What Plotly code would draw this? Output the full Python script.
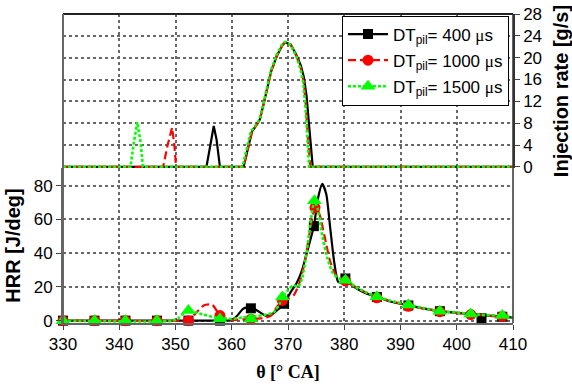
import plotly.graph_objects as go

# ---------------- data ----------------
th_hrr_black = [330, 358, 360, 361, 362, 363.3, 364.5, 366, 367, 368, 369.3, 370.5, 371.5, 372.5,
                373.5, 374.6, 375.3, 376.1, 376.8, 377.5, 378.2, 378.9, 379.5, 380.2, 381, 382,
                384, 386, 388, 391.4, 394, 397, 400, 403, 406, 408, 410]
hrr_black = [0, 0, 0.3, 3, 7, 8.3, 6, 3, 3.5, 6, 10, 17, 22, 30,
             42, 56, 72, 81, 75, 55, 35, 23, 22.5, 25, 22, 19.5,
             16, 14, 11.5, 9, 7.3, 5.6, 4.6, 3.7, 2.8, 2.3, 1.8]

th_hrr_red = [330, 351.5, 352.3, 353.5, 355, 356.5, 357.5, 357.9, 359, 360.5, 363.4, 365.5, 367,
              368, 369, 370, 371, 372, 373, 374, 374.8, 375.5, 376.5, 377.5, 378.5, 379.5, 380.2,
              382, 384, 386, 388, 391.4, 394, 397, 400, 402.5, 405, 408.1, 410]
hrr_red = [0, 0, 0.5, 4, 9, 9.5, 5, 3, 1, 0.5, 1, 1.5, 3,
           8, 12, 13, 15, 22, 35, 55, 67, 64, 50, 35, 27, 24, 23.5,
           20, 16.5, 14, 11.8, 9, 7.3, 5.5, 4.6, 3.8, 3.1, 2.6, 1.9]

th_hrr_green = [330, 349.5, 350.5, 351.5, 352.3, 353.5, 355, 357, 358, 360, 362, 364, 366, 367.5,
                368.5, 369, 370, 371, 371.8, 372.5, 373.3, 374, 374.7, 375.3, 376, 377, 378, 379,
                380.2, 382, 384, 386, 388, 391.4, 394, 397, 400, 402.5, 405, 408.1, 410]
hrr_green = [0, 0, 1.5, 4.5, 6, 5, 3.5, 2, 1.5, 1, 2, 2.5, 3.5, 5,
             10, 14, 18, 21, 20, 25, 40, 58, 71, 66, 52, 37, 28, 25,
             24, 20, 16.5, 14.2, 12, 9.3, 7.5, 5.6, 4.8, 4, 3.3, 3, 2]

mk_th_black = [330, 335.6, 341.1, 346.7, 352.3, 357.9, 363.4, 369.3, 374.6, 380.2, 385.8, 391.4, 397.0, 404.4, 408.1]
mk_black = [0, 0, 0, 0, 0, 0, 7.3, 10, 56, 25, 14, 9, 5.6, 1.4, 2.3]
mk_th_red = [330, 335.6, 341.1, 346.7, 352.3, 357.9, 363.4, 369.0, 374.8, 380.2, 385.8, 391.4, 397.0, 402.5, 408.1]
mk_red = [0, 0, 0, 0, 0, 3.0, 0.8, 12, 67, 23.5, 13.5, 8.5, 5.3, 3.6, 2.5]
mk_th_green = [330, 335.6, 341.1, 346.7, 352.3, 357.9, 363.4, 369.0, 374.7, 380.2, 385.8, 391.4, 397.0, 402.5, 408.1]
mk_green = [0, 0, 0, 0, 6, 1.0, 1.0, 14, 71, 24, 14.2, 9.3, 5.6, 4, 3]

th_inj_black = [330, 355.5, 356.2, 356.8, 357.3, 357.9, 362.1, 362.8, 363.6, 364.3, 365, 366, 367,
                368, 369, 369.5, 370.5, 371.5, 372.3, 372.8, 373.3, 373.8, 374.2, 374.4, 410]
inj_black = [0, 0, 4, 7.5, 5, 0, 0, 3, 6.5, 7.5, 8.7, 13, 17.5,
             20.3, 22.3, 22.8, 22.4, 20.5, 18.5, 16.5, 13, 7, 2, 0, 0]
th_inj_red = [330, 347.8, 348.6, 349.4, 349.8, 350.1, 362.1, 362.8, 363.6, 364.3, 365, 366, 367,
              368, 369, 369.5, 370.5, 371.5, 372.3, 372.8, 373.2, 373.5, 373.8, 373.95, 410]
inj_red = [0, 0, 4, 7.2, 4, 0, 0, 3, 6.5, 7.5, 8.7, 13, 17.5,
           20.3, 22.3, 22.8, 22.3, 20.3, 18, 15.5, 11, 6, 2, 0, 0]
th_inj_green = [330, 342.0, 342.6, 343.2, 343.8, 344.2, 361.9, 362.6, 363.4, 364.2, 365, 366, 367,
                368, 369, 369.5, 370.5, 371.5, 372.2, 372.7, 373.1, 373.4, 373.6, 373.75, 410]
inj_green = [0, 0, 4.5, 8.2, 4.5, 0, 0, 3, 6.5, 7.5, 8.8, 13.3, 17.8,
             20.6, 22.5, 22.9, 22.3, 20.2, 18, 15.5, 11, 6, 2, 0, 0]

series_names = ["400", "1000", "1500"]
x_ticks = [330, 340, 350, 360, 370, 380, 390, 400, 410]
hrr_ticks = [0, 20, 40, 60, 80]
inj_ticks = [0, 4, 8, 12, 16, 20, 24, 28]

# axis ranges
x_range = [330, 410]
hrr_range = [-1.4, 90.45]
inj_range = [-0.2, 28]

# ---------------- styles ----------------
colors = ["#000000", "#ff0000", "#00ff00"]
dashes = ["solid", "8px,4px", "3px,2px"]
widths = [2.2, 2.2, 2.6]
symbols = ["square", "circle", "triangle-up"]
msizes = [10, 11, 13]
grid_col = "#686868"

hrr_x = [th_hrr_black, th_hrr_red, th_hrr_green]
hrr_y = [hrr_black, hrr_red, hrr_green]
mk_x = [mk_th_black, mk_th_red, mk_th_green]
mk_y = [mk_black, mk_red, mk_green]
inj_x = [th_inj_black, th_inj_red, th_inj_green]
inj_y = [inj_black, inj_red, inj_green]

fig = go.Figure()

for i in range(3):
    fig.add_trace(go.Scatter(x=inj_x[i], y=inj_y[i], mode="lines", yaxis="y2", xaxis="x",
                             line=dict(color=colors[i], dash=dashes[i], width=widths[i]),
                             showlegend=False, hoverinfo="skip"))
for i in range(3):
    fig.add_trace(go.Scatter(x=hrr_x[i], y=hrr_y[i], mode="lines",
                             line=dict(color=colors[i], dash=dashes[i], width=widths[i], shape="spline", smoothing=0.6),
                             showlegend=False, hoverinfo="skip"))
    fig.add_trace(go.Scatter(x=mk_x[i], y=mk_y[i], mode="markers",
                             marker=dict(color=colors[i], symbol=symbols[i], size=msizes[i]),
                             showlegend=False, cliponaxis=False, hoverinfo="skip"))
mu = '<span style="font-family:Liberation Serif">μ</span>'
for i in range(3):
    fig.add_trace(go.Scatter(x=[None], y=[None], mode="lines+markers",
                             name=f"DT<sub>pil</sub>= {series_names[i]} {mu}s",
                             legendgroup=f"g{i}",
                             line=dict(color=colors[i], dash=dashes[i], width=widths[i]),
                             marker=dict(color=colors[i], symbol=symbols[i], size=msizes[i])))

split = 155 / 309

frame_shapes = [
    dict(type="line", xref="paper", yref="paper", x0=0, x1=1, y0=1, y1=1,
         line=dict(color="#222", width=2)),
    dict(type="line", xref="paper", yref="paper", x0=0, x1=0, y0=0, y1=1,
         line=dict(color="#666", width=2)),
    dict(type="line", xref="paper", yref="paper", x0=1, x1=1, y0=0, y1=1,
         line=dict(color="#333", width=1.5)),
]

grid_common = dict(showgrid=True, gridcolor=grid_col, gridwidth=1.5, griddash="dot")

fig.update_layout(
    width=572, height=385,
    margin=dict(l=63, r=59, t=14, b=62, autoexpand=False),
    paper_bgcolor="white", plot_bgcolor="white",
    font=dict(family="Liberation Sans, Arial, sans-serif", size=17, color="black"),
    showlegend=True,
    legend=dict(x=0.62, y=0.995, xanchor="left", yanchor="top",
                bgcolor="white", bordercolor="black", borderwidth=1,
                font=dict(size=17), tracegroupgap=1, itemwidth=40),
    xaxis=dict(range=x_range, tickvals=x_ticks, ticks="outside", ticklen=5, tickwidth=1.2,
               tickcolor="#444", showline=True, linecolor="#666", linewidth=2,
               zeroline=False, anchor="y", automargin=False,
               title=dict(text="<b>θ [° CA]</b>", font=dict(family="Liberation Serif, Times New Roman, serif", size=18),
                          standoff=12),
               **grid_common),
    yaxis=dict(domain=[0, split], range=hrr_range, tickvals=hrr_ticks, ticks="outside",
               ticklen=5, tickwidth=1.2, tickcolor="#444", showline=True, linecolor="#666", linewidth=2,
               zeroline=False, automargin=False,
               title=dict(text="<b>HRR [J/deg]</b>", font=dict(size=20), standoff=8),
               **grid_common),
    yaxis2=dict(domain=[split, 1], range=inj_range, tickvals=inj_ticks, ticks="outside",
                ticklen=5, tickwidth=1.2, tickcolor="#444", side="right", anchor="x",
                showline=True, linecolor="#333", linewidth=1.5, automargin=False,
                zeroline=False,
                title=dict(text="<b>Injection rate [g/s]</b>", font=dict(size=20), standoff=14),
                **grid_common),
    shapes=frame_shapes,
)

fig.write_html("out.html")
